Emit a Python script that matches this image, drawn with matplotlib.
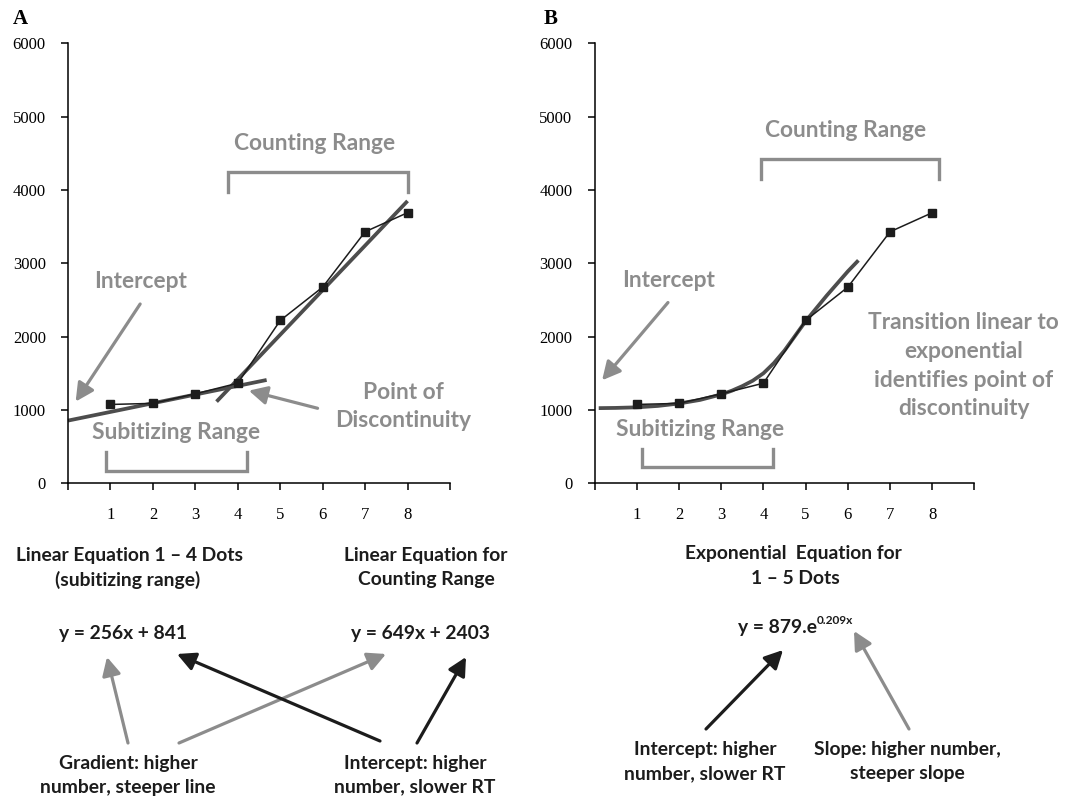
import matplotlib
matplotlib.use("Agg")
import matplotlib.pyplot as plt

# ---------------- data ----------------
dots = [1, 2, 3, 4, 5, 6, 7, 8]
rt = [1075, 1090, 1220, 1365, 2220, 2675, 3430, 3690]
x_tick_labels = ["", "1", "2", "3", "4", "5", "6", "7", "8", ""]
y_ticks = [0, 1000, 2000, 3000, 4000, 5000, 6000]

# trend lines
subit_fit_x = [0.0, 4.68]
subit_fit_y = [855, 1409]
count_fit_x = [3.5, 8.0]
count_fit_y = [1114, 3850]
exp_fit_x = [0.1, 0.5, 1.0, 1.5, 2.0, 2.5, 3.0, 3.25, 3.5, 3.75, 4.0, 4.25,
             4.5, 4.75, 5.0, 5.5, 6.0, 6.25]
exp_fit_y = [1025, 1028, 1036, 1055, 1088, 1137, 1212, 1262, 1325, 1400, 1500,
             1640, 1810, 2010, 2210, 2560, 2890, 3040]

W, H = 1070, 798
GRAY = "#8c8c8c"
BLACK = "#1c1c1c"
FIT = "#4d4d4d"
SANS = ["Lato", "DejaVu Sans"]
SERIF = ["Liberation Serif", "DejaVu Serif"]

fig = plt.figure(figsize=(W / 100, H / 100), dpi=100)
renderer = fig.canvas.get_renderer()


def fit_size(s, target_px, family=SANS, weight="bold", base=10.0):
    t = fig.text(0, 0, s, fontsize=base, family=family, weight=weight)
    w = t.get_window_extent(renderer=renderer).width
    t.remove()
    return base * target_px / w


GSIZE = fit_size("Counting Range", 161)
BSIZE = fit_size("Linear Equation 1 \u2013 4 Dots", 228)
TSIZE = fit_size("6000", 33, family=SERIF, weight="normal")


def ax_rect(left, right, top, bottom):
    return [left / W, 1 - bottom / H, (right - left) / W, (bottom - top) / H]


def style_axes(ax):
    ax.set_xlim(0, 9)
    ax.set_ylim(0, 6000)
    for sp in ["top", "right"]:
        ax.spines[sp].set_visible(False)
    for sp in ["left", "bottom"]:
        ax.spines[sp].set_linewidth(1.1)
        ax.spines[sp].set_color("black")
    ax.set_xticks(range(10))
    ax.set_xticklabels(x_tick_labels)
    ax.set_yticks(y_ticks)
    ax.set_yticklabels([str(v) for v in y_ticks])
    ax.tick_params(axis="both", direction="out", length=5, width=1.1,
                   labelsize=TSIZE)
    ax.tick_params(axis="x", pad=12)
    ax.tick_params(axis="y", pad=11)
    for lab in ax.get_xticklabels() + ax.get_yticklabels():
        lab.set_fontfamily(SERIF)
    ax.patch.set_alpha(0)


def gtext(ax, x, y, s):
    ax.text(x, y, s, ha="center", va="center", color=GRAY, fontsize=GSIZE,
            family=SANS, weight="bold", clip_on=False, linespacing=1.45)


def garrow(ax, xy_from, xy_to, color=GRAY, coords="data", lw=2.3):
    ax.annotate("", xy=xy_to, xytext=xy_from, xycoords=coords,
                textcoords=coords, annotation_clip=False,
                arrowprops=dict(arrowstyle="-|>,head_length=0.55,head_width=0.28",
                                mutation_scale=20, lw=lw, color=color,
                                shrinkA=0, shrinkB=0))


def bracket_down(ax, x0, x1, ytop, yend):
    ax.plot([x0, x0, x1, x1], [yend, ytop, ytop, yend], color=GRAY, lw=2.4,
            clip_on=False, solid_joinstyle="miter")


def bracket_up(ax, x0, x1, ybot, yend):
    ax.plot([x0, x0, x1, x1], [yend, ybot, ybot, yend], color=GRAY, lw=2.4,
            clip_on=False, solid_joinstyle="miter")


def ftext(x, y, s, size=None, color=BLACK, **kw):
    fig.text(x / W, 1 - y / H, s, ha=kw.pop("ha", "center"), va="center",
             color=color, fontsize=size or BSIZE, family=SANS, weight="bold",
             **kw)


def farrow(ax, p_from, p_to, color):
    garrow(ax, (p_from[0], H - p_from[1]), (p_to[0], H - p_to[1]), color=color,
           coords="figure pixels", lw=2.3)


# ---------------- Panel A ----------------
axA = fig.add_axes(ax_rect(68, 450, 43.3, 483.3))
style_axes(axA)
axA.plot(subit_fit_x, subit_fit_y, color=FIT, lw=2.7, solid_capstyle="butt",
         clip_on=False)
axA.plot(count_fit_x, count_fit_y, color=FIT, lw=2.7, solid_capstyle="butt")
axA.plot(dots, rt, color=BLACK, lw=1.1, marker="s", markersize=5.5,
         markerfacecolor=BLACK, markeredgecolor=BLACK)

gtext(axA, 5.8, 4640, "Counting Range")
bracket_down(axA, 3.78, 8.02, 4250, 3975)
gtext(axA, 1.72, 2750, "Intercept")
garrow(axA, (1.70, 2445), (0.18, 1114))
gtext(axA, 2.54, 690, "Subitizing Range")
bracket_up(axA, 0.90, 4.22, 168, 432)
gtext(axA, 7.9, 1045, "Point of\nDiscontinuity")
garrow(axA, (5.88, 1023), (4.26, 1264))

fig.text(20 / W, 1 - 19 / H, "A", ha="center", va="center", fontsize=15,
         family=SERIF, weight="bold")

ftext(129, 555, "Linear Equation 1 \u2013 4 Dots")
ftext(128, 580, "(subitizing range)")
ftext(426, 555, "Linear Equation for")
ftext(426, 580, "Counting Range")
ftext(123, 633, "y = 256x + 841")
ftext(420, 633, "y = 649x + 2403")
ftext(128, 763, "Gradient: higher")
ftext(128, 787, "number, steeper line")
ftext(415, 763, "Intercept: higher")
ftext(415, 787, "number, slower RT")

farrow(axA, (128, 743), (107, 657), GRAY)
farrow(axA, (179, 743), (386, 654), GRAY)
farrow(axA, (380, 741), (177, 654), BLACK)
farrow(axA, (417, 743), (466, 657), BLACK)

# ---------------- Panel B ----------------
axB = fig.add_axes(ax_rect(594.5, 974.5, 43.3, 483.3))
style_axes(axB)
axB.plot(exp_fit_x, exp_fit_y, color=FIT, lw=2.7, solid_capstyle="butt")
axB.plot(dots, rt, color=BLACK, lw=1.1, marker="s", markersize=5.5,
         markerfacecolor=BLACK, markeredgecolor=BLACK)

gtext(axB, 5.95, 4810, "Counting Range")
bracket_down(axB, 3.95, 8.15, 4418, 4150)
gtext(axB, 1.76, 2764, "Intercept")
garrow(axB, (1.74, 2465), (0.18, 1405))
gtext(axB, 2.51, 727, "Subitizing Range")
bracket_up(axB, 1.12, 4.22, 218, 468)
gtext(axB, 8.74, 1600,
      "Transition linear to\nexponential\nidentifies point of\ndiscontinuity")

fig.text(551 / W, 1 - 19 / H, "B", ha="center", va="center", fontsize=15,
         family=SERIF, weight="bold")

ftext(793, 554, "Exponential  Equation for")
ftext(795, 579, "1 \u2013 5 Dots")
ftext(738, 627, "y = 879.e", ha="left")
ftext(817, 620, "0.209x", size=BSIZE * 0.62, ha="left")
ftext(705, 750, "Intercept: higher")
ftext(705, 774, "number, slower RT")
ftext(907, 750, "Slope: higher number,")
ftext(907, 774, "steeper slope")

farrow(axB, (706, 729), (783, 650), BLACK)
farrow(axB, (909, 729), (854, 631), GRAY)

fig.savefig("out.png", dpi=100)
